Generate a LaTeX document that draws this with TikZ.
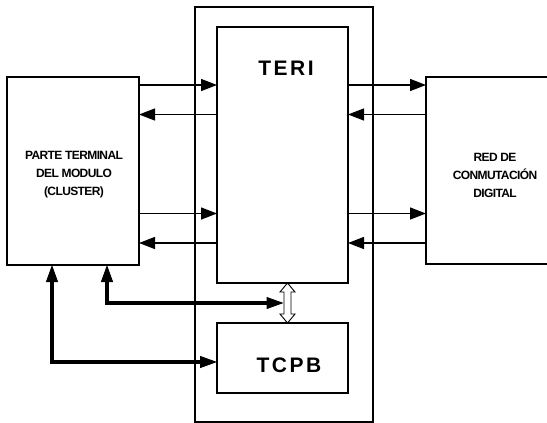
\documentclass[tikz,border=0pt]{standalone}
\usepackage{fontspec}
\setmainfont{Liberation Sans}
\usetikzlibrary{arrows.meta}
\begin{document}
\begin{tikzpicture}[x=1pt,y=-1pt,line width=1pt,
  blk/.style={draw,line width=1.3pt,inner sep=0pt,outer sep=0pt},
  small/.style={font=\fontsize{12}{18}\selectfont\bfseries\addfontfeature{LetterSpace=-5},align=center,inner sep=0pt},
  big/.style={font=\fontsize{21}{24}\selectfont\bfseries\addfontfeature{LetterSpace=12},inner sep=0pt},
  tarrow/.style={line width=1.4pt,-{Triangle[length=16pt,width=12pt]}},
  barrow/.style={line width=3.5pt,{Triangle[length=17pt,width=12pt,line width=1pt]}-{Triangle[length=17pt,width=12pt,line width=1pt]}}]
\useasboundingbox (0,0) rectangle (547,423);
% outer frame
\node[blk,minimum width=178pt,minimum height=415pt] (outer) at (284,214.5) {};
% boxes
\node[blk,minimum width=132pt,minimum height=188pt] (clu) at (73,171) {};
\node[blk,minimum width=131pt,minimum height=256pt] (teri) at (282.5,155) {};
\node[blk,minimum width=131pt,minimum height=70pt] (tcpb) at (282.5,358) {};
\node[inner sep=0pt,outer sep=0pt,minimum width=121pt,minimum height=187pt] (red) at (486.5,170.5) {};
\draw[line width=1.3pt] (red.north east) -- (red.north west) -- (red.south west) -- (red.south east);
% texts
\node[small] (clut) at (74,175) {PARTE TERMINAL\\DEL MODULO\\(CLUSTER)};
\node[small] (redt) at (495,175) {RED DE\\CONMUTACIÓN\\DIGITAL};
\node[big] (terit) at (286,68) {TERI};
\node[big] (tcpbt) at (289,365) {TCPB};
% horizontal arrows
\coordinate (y1) at (0,85);
\coordinate (y2) at (0,114.5);
\coordinate (y3) at (0,213.5);
\coordinate (y4) at (0,243);
\draw[tarrow] (clu.east |- y1) -- (teri.west |- y1);
\draw[tarrow] (teri.west |- y2) -- (clu.east |- y2);
\draw[tarrow] (clu.east |- y3) -- (teri.west |- y3);
\draw[tarrow] (teri.west |- y4) -- (clu.east |- y4);
\draw[tarrow] (teri.east |- y1) -- (red.west |- y1);
\draw[tarrow] (red.west |- y2) -- (teri.east |- y2);
\draw[tarrow] (teri.east |- y3) -- (red.west |- y3);
\draw[tarrow] (red.west |- y4) -- (teri.east |- y4);
% hollow double arrow between TERI and TCPB
\coordinate (dblw) at (283.5,303);
\draw[line width=0.9pt,fill=white,line join=miter]
  (287.5,283) -- (280,292) -- (284,292) -- (284,314) -- (280,314) -- (287.5,323)
  -- (295,314) -- (291,314) -- (291,292) -- (295,292) -- cycle;
% thick bus lines
\coordinate (b1) at (107,303);
\coordinate (b2) at (52,362);
\draw[barrow] (clu.south -| b1) -- (b1) -- (dblw);
\draw[barrow] (clu.south -| b2) -- (b2) -- (tcpb.west |- b2);
\end{tikzpicture}
\end{document}
